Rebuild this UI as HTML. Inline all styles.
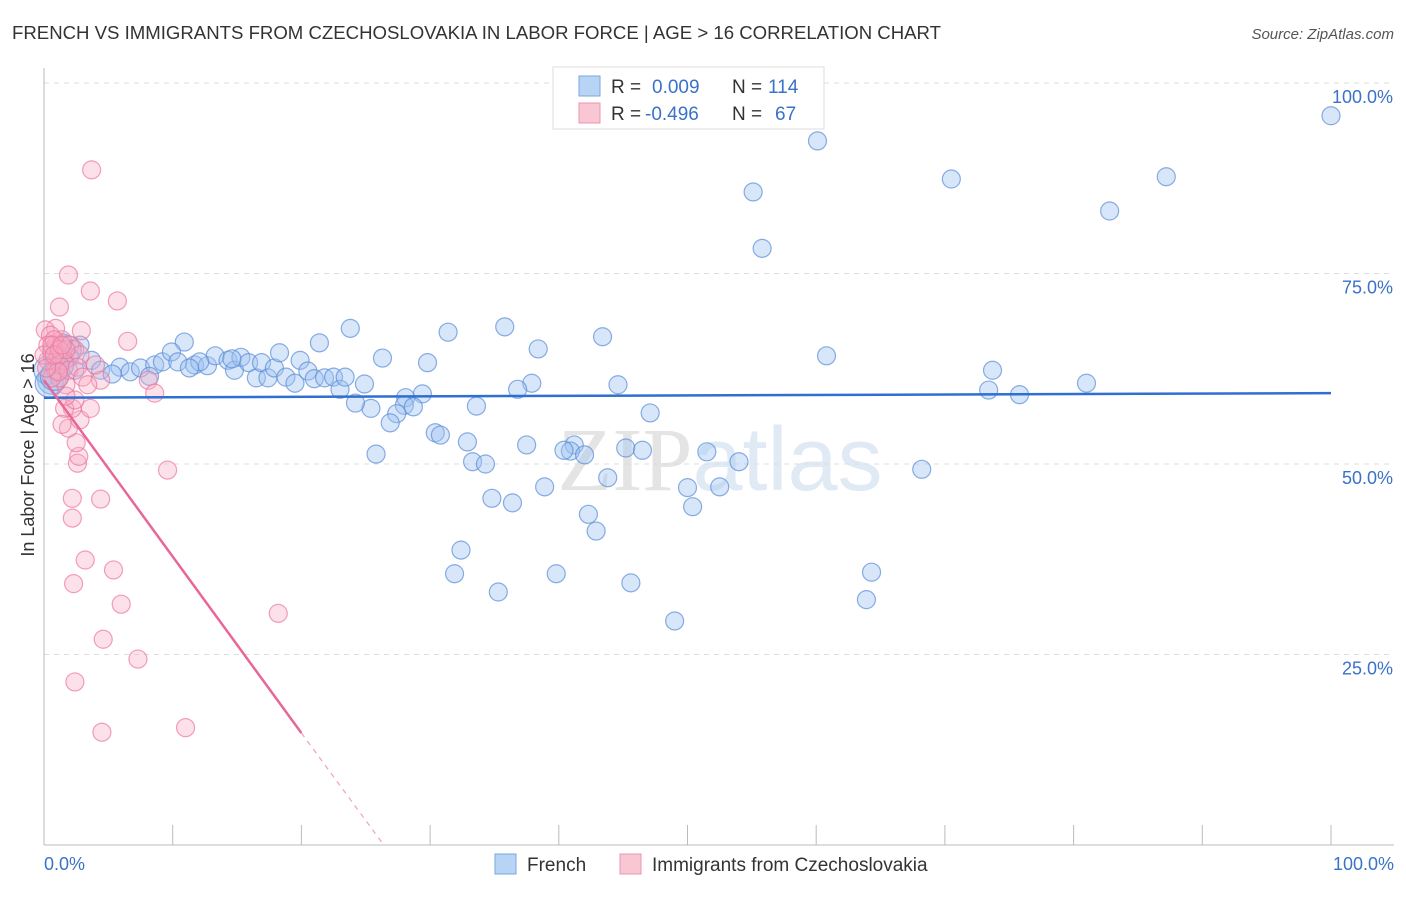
<!DOCTYPE html>
<html><head><meta charset="utf-8"><style>
body{margin:0;background:#fff;font-family:"Liberation Sans",sans-serif;}
svg text{font-family:"Liberation Sans",sans-serif;}
</style></head><body>
<svg id="chart" width="1406" height="892" viewBox="0 0 1406 892" xmlns="http://www.w3.org/2000/svg">
<text x="12" y="39" font-size="18" fill="#333" textLength="929" lengthAdjust="spacingAndGlyphs">FRENCH VS IMMIGRANTS FROM CZECHOSLOVAKIA IN LABOR FORCE | AGE &gt; 16 CORRELATION CHART</text>
<text x="1394" y="39" font-size="15" fill="#555" font-style="italic" text-anchor="end">Source: ZipAtlas.com</text>
<text x="720" y="490" font-size="90" fill="#ececec" text-anchor="middle"><tspan font-family="Liberation Serif" fill="#e4e4e4">ZIP</tspan><tspan fill="#e0eaf5">atlas</tspan></text>
<g id="grid"></g>
<g id="axes"></g>
<g id="pts"></g>
<g id="trends"></g>
<text transform="translate(34,455) rotate(-90)" font-size="18" fill="#333" text-anchor="middle">In Labor Force | Age &gt; 16</text>
<g>
<rect x="553" y="67" width="271" height="62" fill="#fff" stroke="#ddd"/>
<rect x="579" y="76" width="21" height="20" fill="#b8d4f5" stroke="#7aa7e0"/>
<rect x="579" y="103" width="21" height="20" fill="#f9c6d4" stroke="#ec94ae"/>
<text x="611" y="93" font-size="19" fill="#333">R = </text><text x="652" y="93" font-size="19" fill="#3a72c8">0.009</text>
<text x="732" y="93" font-size="19" fill="#333">N = </text><text x="768" y="93" font-size="19" fill="#3a72c8">114</text>
<text x="611" y="120" font-size="19" fill="#333">R = </text><text x="645" y="120" font-size="19" fill="#3a72c8">-0.496</text>
<text x="732" y="120" font-size="19" fill="#333">N = </text><text x="775" y="120" font-size="19" fill="#3a72c8">67</text>
</g>
<g>
<rect x="495" y="854" width="21" height="20" fill="#b8d4f5" stroke="#7aa7e0"/>
<text x="527" y="871" font-size="19" fill="#333">French</text>
<rect x="620" y="854" width="21" height="20" fill="#f9c6d4" stroke="#ec94ae"/>
<text x="652" y="871" font-size="19" fill="#333">Immigrants from Czechoslovakia</text>
</g>
</svg>
<script>
const blueX=[100,60.1,55.1,70.5,87.2,82.8,55.8,10.9,23.8,31.4,35.8,43.4,38.4,21.4,26.3,29.8,60.8,73.7,81.0,73.4,75.8,44.6,37.9,36.8,24.9,29.4,28.1,28.0,28.7,27.4,26.9,25.4,24.2,33.6,47.1,30.4,30.8,32.9,37.5,41.2,40.9,40.4,42.0,45.2,46.5,51.5,54.0,68.2,33.3,34.3,25.8,38.9,43.8,34.8,36.4,50.0,52.5,50.4,42.3,42.9,32.4,31.9,35.3,39.8,45.6,49.0,64.3,63.9,1.5,2.8,3.7,4.4,5.9,6.7,7.5,8.6,9.2,9.9,10.4,11.7,12.7,13.3,14.3,14.8,15.3,15.9,16.5,16.9,17.4,17.9,18.3,18.8,19.5,19.9,20.5,21.0,21.8,22.5,23.0,23.4,8.2,5.3,12.1,14.6,11.3,2.4,0.6,0.3,1.0,1.8,0.4,2.0,1.2,0.8];
const blueY=[95.7,92.4,85.7,87.4,87.7,83.2,78.3,66.0,67.8,67.3,68.0,66.7,65.1,65.9,63.9,63.3,64.2,62.3,60.6,59.7,59.1,60.4,60.6,59.8,60.5,59.2,58.7,57.7,57.5,56.6,55.4,57.3,58.0,57.6,56.7,54.1,53.8,52.9,52.5,52.5,51.7,51.8,51.2,52.1,51.8,51.6,50.3,49.3,50.3,50.0,51.3,47.0,48.2,45.5,44.9,46.9,47.0,44.4,43.4,41.2,38.7,35.6,33.2,35.6,34.4,29.4,35.8,32.2,65.9,65.6,63.6,62.3,62.7,62.1,62.6,63.0,63.4,64.7,63.4,63.0,62.9,64.2,63.6,62.3,64.0,63.3,61.3,63.3,61.3,62.6,64.6,61.4,60.6,63.6,62.2,61.2,61.3,61.4,59.8,61.4,61.5,61.8,63.4,63.8,62.6,62.3,61.0,62.3,64.5,65.0,60.6,64.0,63.0,61.5];
const pinkX=[3.7,1.9,3.6,5.7,1.2,6.5,2.9,0.9,4.4,8.1,8.6,9.6,18.2,7.3,11.0,4.5,2.4,4.6,5.4,6.0,3.2,2.3,2.2,2.2,4.4,2.6,2.7,2.5,1.9,2.8,2.2,3.6,1.6,1.4,1.7,0.9,1.2,0.3,0.6,0.9,1.4,2.0,0.1,0.5,1.1,1.6,2.4,2.8,0.3,0.8,0,1.2,1.9,2.6,0.6,1.1,0.2,2.4,3.0,3.4,4.0,1.7,0.6,1.2,1.7,0.8,1.4];
const pinkY=[88.6,74.8,72.7,71.4,70.6,66.1,67.5,67.8,61.0,61.0,59.3,49.2,30.4,24.4,15.4,14.8,21.4,27.0,36.1,31.6,37.4,34.3,42.9,45.5,45.4,50.1,51.0,52.8,54.7,55.8,57.3,57.3,57.3,55.2,60.4,62.3,61.3,63.6,65.0,65.6,66.3,65.6,67.6,66.9,64.3,63.6,65.0,64.3,65.6,66.3,64.3,63.0,62.3,62.7,61.3,62.1,62.6,58.4,61.4,60.4,63.0,58.9,65.6,65.0,65.0,64.3,65.6];
const blueTrend=[[0,58.7],[100,59.3]];
const pinkTrendSolid=[[0,61.0],[20,14.7]];
const pinkTrendDash=[[20,14.7],[26.4,0]];
const yTicks=[25,50,75,100];
const yTickLabels=["25.0%","50.0%","75.0%","100.0%"];
const xTickCount=10;
const NS="http://www.w3.org/2000/svg";
const X0=44,X1=1331,Y0=845,Y100=83;
function sx(v){return X0+(X1-X0)*v/100;}
function sy(v){return Y0-(Y0-Y100)*v/100;}
function mk(tag,attrs,parent){const e=document.createElementNS(NS,tag);for(const k in attrs)e.setAttribute(k,attrs[k]);parent.appendChild(e);return e;}
const grid=document.getElementById('grid'),axes=document.getElementById('axes'),pts=document.getElementById('pts'),tr=document.getElementById('trends');
yTicks.forEach((t,i)=>{
 const l=mk('line',{x1:X0,x2:1394,y1:sy(t),y2:sy(t),stroke:'#ddd','stroke-dasharray':'5,5'},grid);
 
 
 const tx=mk('text',{x:1393,y:sy(t)+20,'font-size':18,fill:'#3a72c8','text-anchor':'end'},axes);
 tx.textContent=yTickLabels[i];
 
 
});
const ax=mk('line',{x1:X0,x2:X0,y1:68,y2:Y0,stroke:'#bbb'},axes);


const bx=mk('line',{x1:X0,x2:1394,y1:Y0,y2:Y0,stroke:'#bbb'},axes);


for(let i=1;i<=xTickCount;i++){
 const t=mk('line',{x1:sx(i*10),x2:sx(i*10),y1:Y0,y2:Y0-20,stroke:'#bbb'},axes);
 
 
}
const xl=mk('text',{x:44,y:870,'font-size':18,fill:'#3a72c8'},axes);xl.textContent='0.0%';


const xr=mk('text',{x:1394,y:870,'font-size':18,fill:'#3a72c8','text-anchor':'end'},axes);xr.textContent='100.0%';


blueX.forEach((v,i)=>{
 const c=mk('circle',{cx:sx(v),cy:sy(blueY[i]),r:(v<2&&i>100)?14:9,fill:'rgba(160,196,240,0.42)',stroke:'rgba(90,140,215,0.7)','stroke-width':1.2},pts);
 
 
});
pinkX.forEach((v,i)=>{
 const c=mk('circle',{cx:sx(v),cy:sy(pinkY[i]),r:9,fill:'rgba(248,170,195,0.35)',stroke:'rgba(235,120,155,0.7)','stroke-width':1.2},pts);
 
 
});
const b=mk('line',{x1:sx(blueTrend[0][0]),y1:sy(blueTrend[0][1]),x2:sx(blueTrend[1][0]),y2:sy(blueTrend[1][1]),stroke:'#2f6fd0','stroke-width':2.5},tr);


const p=mk('line',{x1:sx(pinkTrendSolid[0][0]),y1:sy(pinkTrendSolid[0][1]),x2:sx(pinkTrendSolid[1][0]),y2:sy(pinkTrendSolid[1][1]),stroke:'#e8669a','stroke-width':2.5},tr);


const pd=mk('line',{x1:sx(pinkTrendDash[0][0]),y1:sy(pinkTrendDash[0][1]),x2:sx(pinkTrendDash[1][0]),y2:sy(pinkTrendDash[1][1]),stroke:'#f0a0bc','stroke-width':1.2,'stroke-dasharray':'5,5'},tr);


</script>
</body></html>
